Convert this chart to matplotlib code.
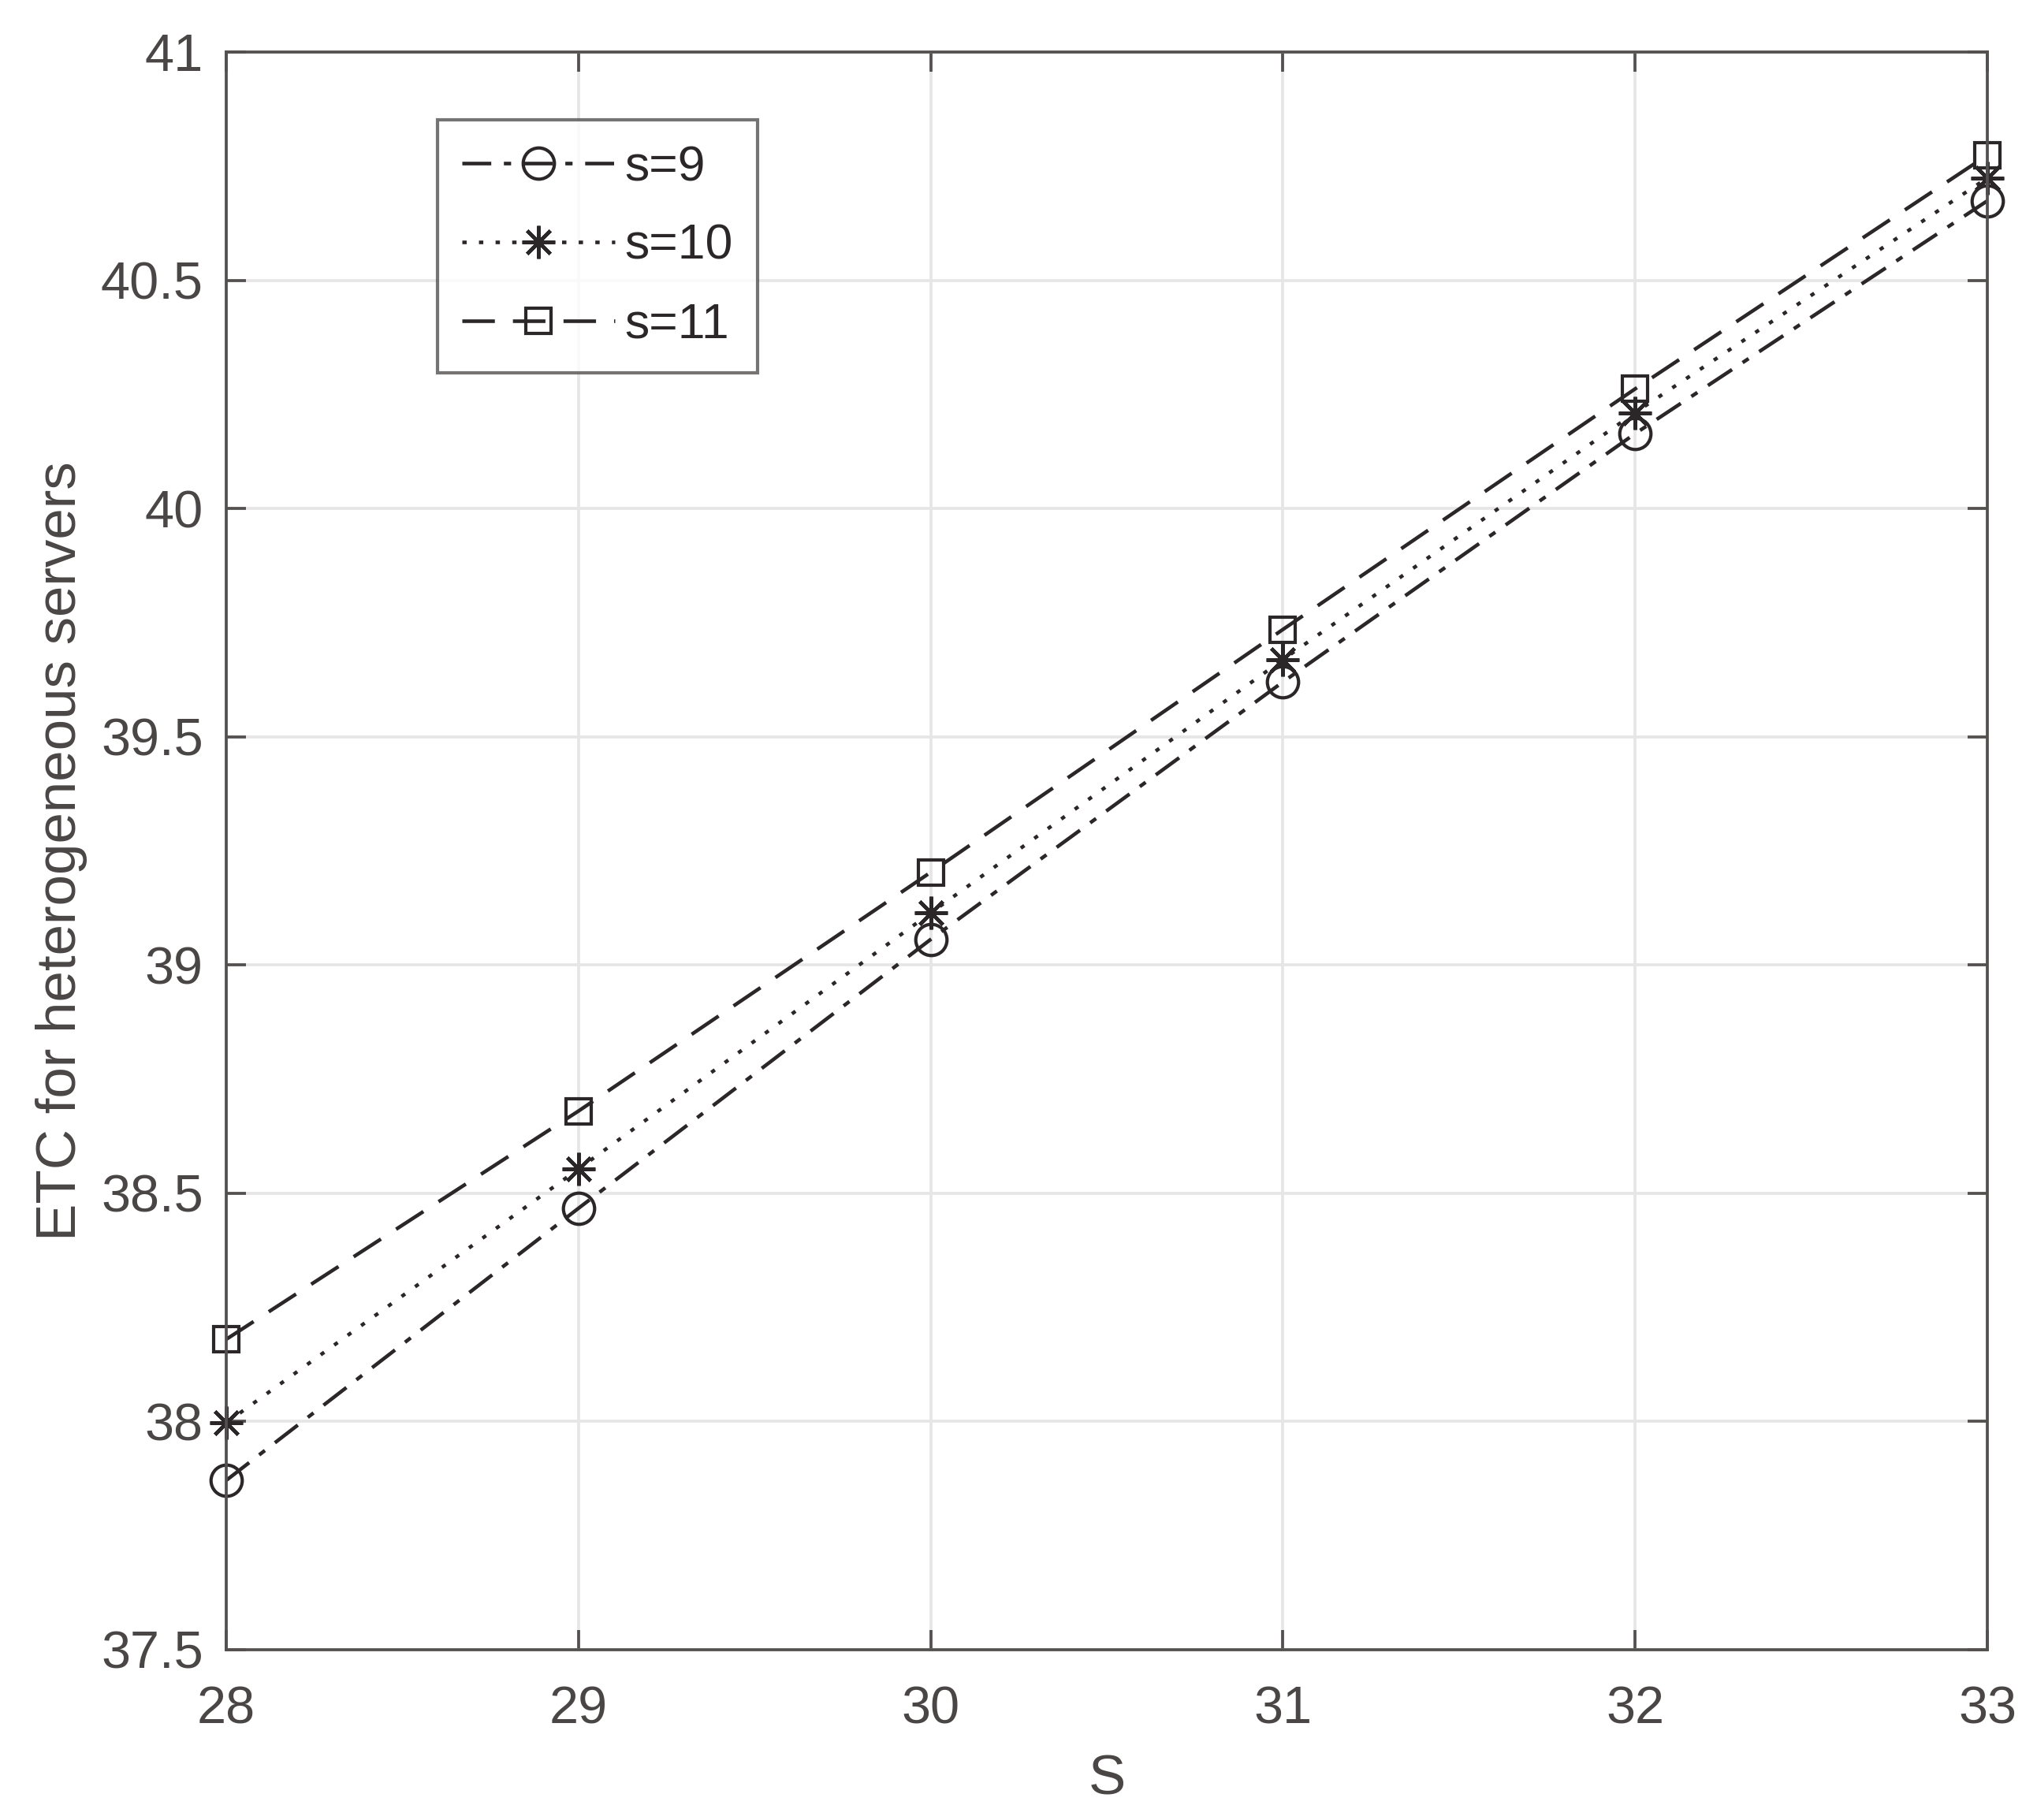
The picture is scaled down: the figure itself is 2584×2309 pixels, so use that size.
import numpy as np
import matplotlib
matplotlib.use("Agg")
import matplotlib.pyplot as plt

plt.rcParams["font.family"] = ["Liberation Sans Narrow", "Liberation Sans", "DejaVu Sans"]

# Data
S_VALUES = [28, 29, 30, 31, 32, 33]
ETC_S9 = [37.871, 38.467, 39.056, 39.620, 40.164, 40.674]
ETC_S10 = [37.997, 38.553, 39.114, 39.669, 40.210, 40.724]
ETC_S11 = [38.180, 38.680, 39.203, 39.735, 40.262, 40.774]
LABELS = ["s=9", "s=10", "s=11"]

X_TICKS = [28, 29, 30, 31, 32, 33]
Y_TICKS = [37.5, 38, 38.5, 39, 39.5, 40, 40.5, 41]

LINE_COLOR = "#2b2627"
AXIS_COLOR = "#545050"
TEXT_COLOR = "#4a4646"


def main() -> None:
    fig = plt.figure(figsize=(2584 / 300, 2309 / 300), dpi=300)
    ax = fig.add_axes([0.1111, 0.0936, 0.8645, 0.8778])

    common = dict(color=LINE_COLOR, linewidth=1.1, clip_on=False)
    ax.plot(S_VALUES, ETC_S9, linestyle=(0, (8, 3.5, 2, 3.5)), marker="o", markersize=9.5,
            markerfacecolor="none", label=LABELS[0], **common)
    ax.plot(S_VALUES, ETC_S10, linestyle=(0, (1.2, 3.4)), marker=(8, 2, 0), markersize=10,
            markeredgewidth=1.1, label=LABELS[1], **common)
    ax.plot(S_VALUES, ETC_S11, linestyle=(0, (9, 5)), marker="s", markersize=7.5,
            markerfacecolor="none", label=LABELS[2], **common)

    ax.set_xlim(28, 33)
    ax.set_ylim(37.5, 41)
    ax.set_xticks(X_TICKS)
    ax.set_yticks(Y_TICKS)
    ax.set_yticklabels([f"{v:g}" for v in Y_TICKS])

    ax.grid(True, color="#e6e6e6", linewidth=0.9)
    ax.set_axisbelow(True)
    ax.tick_params(direction="in", top=True, right=True, length=6, width=0.9,
                   colors=AXIS_COLOR, labelcolor=TEXT_COLOR, labelsize=16)
    ax.tick_params(axis="x", pad=11)
    ax.tick_params(axis="y", pad=7)
    for spine in ax.spines.values():
        spine.set_color(AXIS_COLOR)
        spine.set_linewidth(0.9)

    ax.set_xlabel("S", fontsize=17, color=TEXT_COLOR, labelpad=6)
    ax.set_ylabel("ETC for heterogeneous servers", fontsize=17, color=TEXT_COLOR, labelpad=4)

    leg = ax.legend(loc="upper left", bbox_to_anchor=(0.12, 0.9576), borderaxespad=0,
                    fontsize=15, frameon=True, fancybox=False, edgecolor=AXIS_COLOR,
                    handlelength=3.1, handletextpad=0.2, labelspacing=0.65, borderpad=0.5)
    leg.get_frame().set_linewidth(1.0)
    for t in leg.get_texts():
        t.set_color(LINE_COLOR)

    fig.savefig("out.png", dpi=300)
    plt.close(fig)


if __name__ == "__main__":
    main()
